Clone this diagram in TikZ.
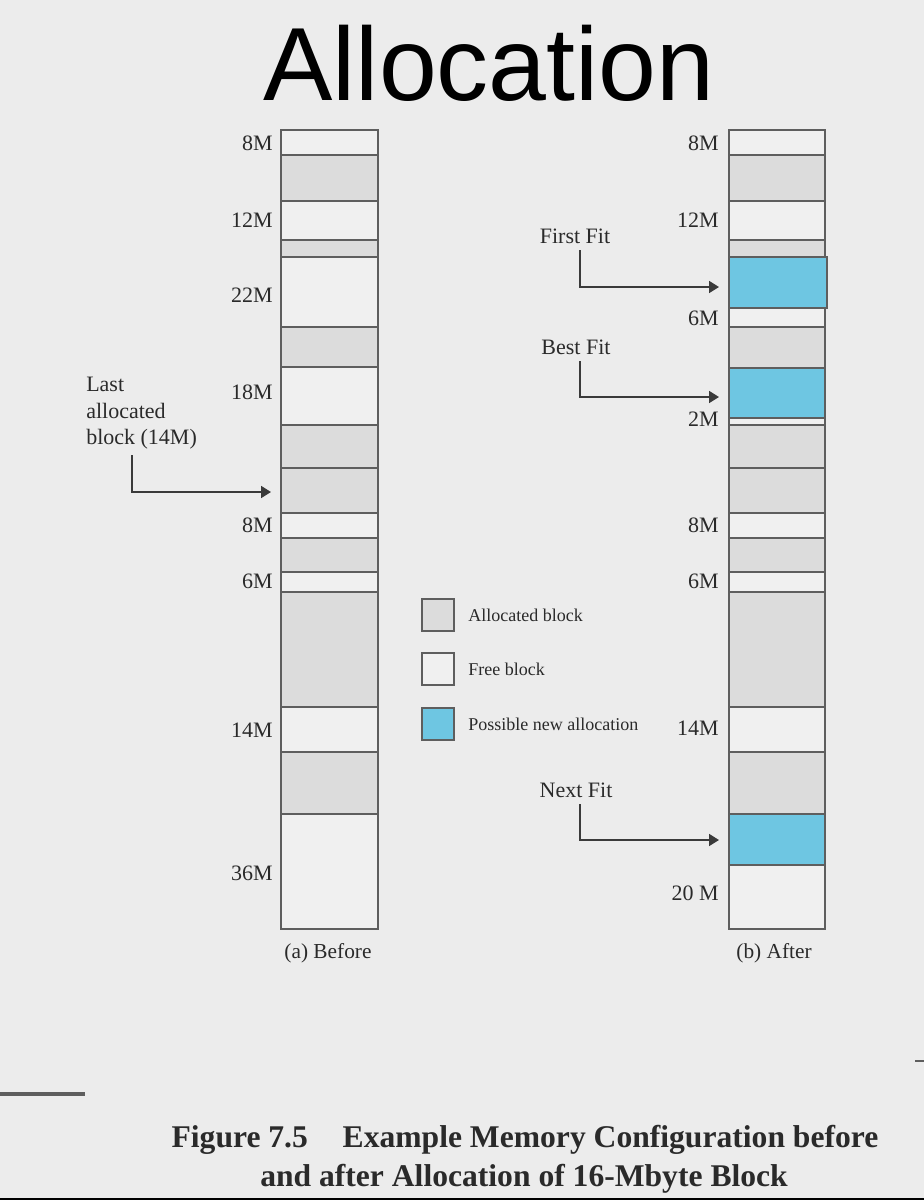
\documentclass[tikz,border=0pt]{standalone}
\usepackage{fontspec}
\setmainfont{Liberation Serif}
\newfontfamily\titlefont{Liberation Sans}
\usetikzlibrary{arrows.meta}

\definecolor{bgcol}{HTML}{ECECEC}
\definecolor{freecol}{HTML}{F0F0F0}
\definecolor{alloccol}{HTML}{DCDCDC}
\definecolor{newcol}{HTML}{6EC6E2}
\definecolor{edgecol}{HTML}{5E5E5E}
\definecolor{arrcol}{HTML}{3A3A3A}
\definecolor{textcol}{HTML}{2A2A2A}

\begin{document}
\begin{tikzpicture}[x=0.75pt, y=-0.75pt, >={Triangle[length=7.5pt,width=9pt]},
    blk/.style={draw=edgecol, line width=1.3pt},
    sizelbl/.style={anchor=east, inner sep=0pt, text=textcol, font=\fontsize{16.5}{19}\selectfont},
    fitlbl/.style={inner sep=2pt, text=textcol, font=\fontsize{16.5}{19}\selectfont},
    arr/.style={->, draw=arrcol, line width=1.3pt},
    keybox/.style={draw=edgecol, line width=1.3pt, minimum size=24pt, inner sep=0pt},
    keytxt/.style={anchor=west, inner sep=0pt, text=textcol, font=\fontsize{13.5}{16}\selectfont},
    colcap/.style={text=textcol, font=\fontsize{16}{19}\selectfont},
    figcap/.style={anchor=base, inner sep=0pt, text=textcol, font=\bfseries\fontsize{23.7}{29}\selectfont}]

    % Nền
    \fill[bgcol] (0,0) rectangle (924,1200);
    \useasboundingbox (0,0) rectangle (924,1200);

    % Tiêu đề
    \node[anchor=base, inner sep=0pt, font=\titlefont\fontsize{78}{80}\selectfont] (title) at (489,100) {Allocation};

    % Cột (a) Before
    \foreach \t/\b/\c in {130/155/freecol, 155/201/alloccol, 201/240/freecol, 240/257/alloccol,
        257/327/freecol, 327/367/alloccol, 367/425/freecol, 425/468/alloccol, 468/513/alloccol,
        513/538/freecol, 538/572/alloccol, 572/592/freecol, 592/707/alloccol, 707/752/freecol,
        752/814/alloccol, 814/929/freecol}
        \draw[blk, fill=\c] (281,\t) rectangle (378,\b);
    \node[sizelbl] (a8) at (273,143) {8M};
    \node[sizelbl] (a12) at (273,220) {12M};
    \node[sizelbl] (a22) at (273,295) {22M};
    \node[sizelbl] (a18) at (273,392) {18M};
    \node[sizelbl] (a8b) at (273,525) {8M};
    \node[sizelbl] (a6) at (273,581) {6M};
    \node[sizelbl] (a14) at (273,730) {14M};
    \node[sizelbl] (a36) at (273,873) {36M};
    \node[colcap] (capa) at (328,953) {(a) Before};

    % Khối cấp phát cuối
    \node[fitlbl, align=left, anchor=north west, inner sep=0pt, font=\fontsize{16.5}{19.9}\selectfont] (last) at (86,377) {Last\\allocated\\block (14M)};
    \coordinate (lasttip) at (271,492);
    \draw[arr] ([xshift=34.5pt,yshift=-4pt]last.south west) |- (lasttip);

    % Cột (b) After
    \foreach \t/\b/\c in {130/155/freecol, 155/201/alloccol, 201/240/freecol, 240/257/alloccol,
        257/308/newcol, 308/327/freecol, 327/368/alloccol, 368/418/newcol, 418/425/freecol,
        425/468/alloccol, 468/513/alloccol, 513/538/freecol, 538/572/alloccol, 572/592/freecol,
        592/707/alloccol, 707/752/freecol, 752/814/alloccol, 814/865/newcol, 865/929/freecol}
        \draw[blk, fill=\c] (729,\t) rectangle (825,\b);
    \draw[blk, fill=newcol] (729,257) rectangle (827,308);
    \node[sizelbl] (b8) at (719,143) {8M};
    \node[sizelbl] (b12) at (719,220) {12M};
    \node[sizelbl] (b6) at (719,318) {6M};
    \node[sizelbl] (b2) at (719,419) {2M};
    \node[sizelbl] (b8b) at (719,525) {8M};
    \node[sizelbl] (b6b) at (719,581) {6M};
    \node[sizelbl] (b14) at (719,728) {14M};
    \node[sizelbl] (b20) at (719,893) {20 M};
    \node[colcap] (capb) at (774,953) {(b) After};

    % Các mũi tên chọn khối
    \node[fitlbl] (ff) at (575,236) {First Fit};
    \coordinate (fftip) at (719,287);
    \draw[arr] ([xshift=3.75pt,yshift=-3pt]ff.south) |- (fftip);
    \node[fitlbl] (bf) at (576,347) {Best Fit};
    \coordinate (bftip) at (719,397);
    \draw[arr] ([xshift=3pt,yshift=-3pt]bf.south) |- (bftip);
    \node[fitlbl] (nf) at (576,790) {Next Fit};
    \coordinate (nftip) at (719,840);
    \draw[arr] ([xshift=3pt,yshift=-3pt]nf.south) |- (nftip);

    % Chú thích
    \node[keybox, fill=alloccol] (k1) at (438,615) {};
    \node[keytxt] (k1t) at (468,615) {Allocated block};
    \node[keybox, fill=freecol] (k2) at (438,669) {};
    \node[keytxt] (k2t) at (468,669) {Free block};
    \node[keybox, fill=newcol] (k3) at (438,724) {};
    \node[keytxt] (k3t) at (468,724) {Possible new allocation};

    % Đường kẻ và tên hình
    \draw[draw=edgecol, line width=3pt] (0,1094) -- (85,1094);
    \draw[draw=edgecol, line width=2pt] (915,1061) -- (924,1061);
    \draw[black, line width=2pt] (0,1199) -- (924,1199);
    \node[figcap] (fig1) at (525,1147) {Figure 7.5\hspace{1.1em}Example Memory Configuration before};
    \node[figcap] (fig2) at (524,1186) {and after Allocation of 16-Mbyte Block};
\end{tikzpicture}
\end{document}
